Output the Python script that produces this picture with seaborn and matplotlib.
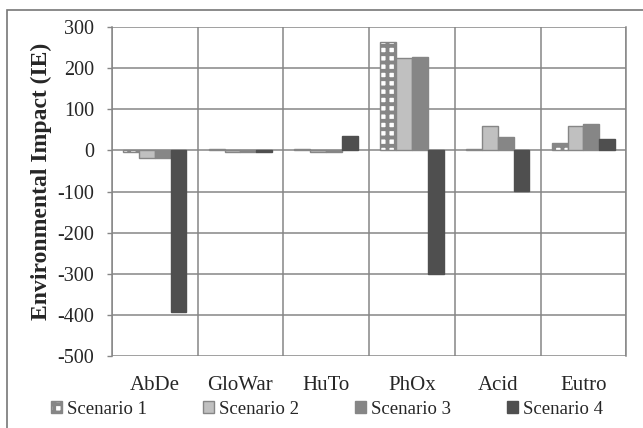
import matplotlib
matplotlib.use("Agg")
import matplotlib.pyplot as plt
import seaborn as sns
import pandas as pd
import numpy as np
from matplotlib.patches import Rectangle, Patch

categories = ["AbDe", "GloWar", "HuTo", "PhOx", "Acid", "Eutro"]
scenarios = ["Scenario 1", "Scenario 2", "Scenario 3", "Scenario 4"]
s1 = [-5, 3, 3, 263, 3, 17]
s2 = [-18, -3, -3, 225, 60, 60]
s3 = [-18, -3, -3, 226, 32, 65]
s4 = [-393, -3, 35, -300, -98, 27]
yticks = [-500, -400, -300, -200, -100, 0, 100, 200, 300]

rows = []
for sc, vals in zip(scenarios, [s1, s2, s3, s4]):
    for c, v in zip(categories, vals):
        rows.append({"cat": c, "scenario": sc, "value": v})
df = pd.DataFrame(rows)

sns.set_theme(style="white")
plt.rcParams["font.family"] = ["Liberation Serif", "DejaVu Serif"]
plt.rcParams["hatch.linewidth"] = 2.8
plt.rcParams["hatch.color"] = "#868686"

fig = plt.figure(figsize=(6.43, 4.28), dpi=100)
ax = fig.add_axes([0.174, 0.168, 0.8, 0.769])

face = {"Scenario 1": "#ffffff", "Scenario 2": "#c0c0c0",
        "Scenario 3": "#868686", "Scenario 4": "#4f4f4f"}
edge = {"Scenario 1": "#868686", "Scenario 2": "#868686",
        "Scenario 3": "#868686", "Scenario 4": "#4f4f4f"}
hatch = {"Scenario 1": "++", "Scenario 2": None,
         "Scenario 3": None, "Scenario 4": None}

sns.barplot(data=df, x="cat", y="value", hue="scenario", order=categories,
            hue_order=scenarios, palette=face, width=0.74, ax=ax,
            saturation=1, legend=False)

for cont, sc in zip(ax.containers, scenarios):
    for p in cont.patches:
        p.set_edgecolor(edge[sc])
        p.set_linewidth(1.0)
        if hatch[sc]:
            p.set_hatch(hatch[sc])

ax.set_ylim(-500, 300)
ax.set_xlim(-0.5, 5.5)
ax.set_yticks(yticks)
ax.set_yticklabels([str(t) for t in yticks], fontsize=14.5)
ax.tick_params(axis="x", labelsize=15, length=0, pad=14)
ax.tick_params(axis="y", length=3.6, width=1, color="#868686", left=True, pad=9)
ax.set_xlabel("")
ax.set_ylabel("Environmental Impact (IE)", fontsize=17, fontweight="bold")
ax.yaxis.set_label_coords(-0.117, 0.53)

ax.set_axisbelow(True)
ax.yaxis.grid(True, color="#868686", linewidth=1.1)
ax.set_xticks(np.arange(-0.5, 6, 1), minor=True)
ax.tick_params(axis="x", which="minor", length=0)
ax.xaxis.grid(True, which="minor", color="#868686", linewidth=1.1)
ax.xaxis.grid(False, which="major")
for s in ["top", "bottom"]:
    ax.spines[s].set_visible(False)
for s in ["left", "right"]:
    ax.spines[s].set_color("#868686")
    ax.spines[s].set_linewidth(1.1)

handles = [Patch(facecolor=face[sc], edgecolor=edge[sc], hatch=hatch[sc], linewidth=1.0)
           for sc in scenarios]
ax.legend(handles, scenarios, loc="center", bbox_to_anchor=(0.418, -0.162), ncol=4,
          frameon=False, fontsize=13.5, handlelength=0.6, handleheight=0.6,
          handletextpad=0.25, columnspacing=3.0, borderaxespad=0)

fig.patches.append(Rectangle((0.011, -0.05), 1.2, 1.027, transform=fig.transFigure,
                             fill=False, edgecolor="#777777", linewidth=1.2))

fig.savefig("out.png", dpi=100)
